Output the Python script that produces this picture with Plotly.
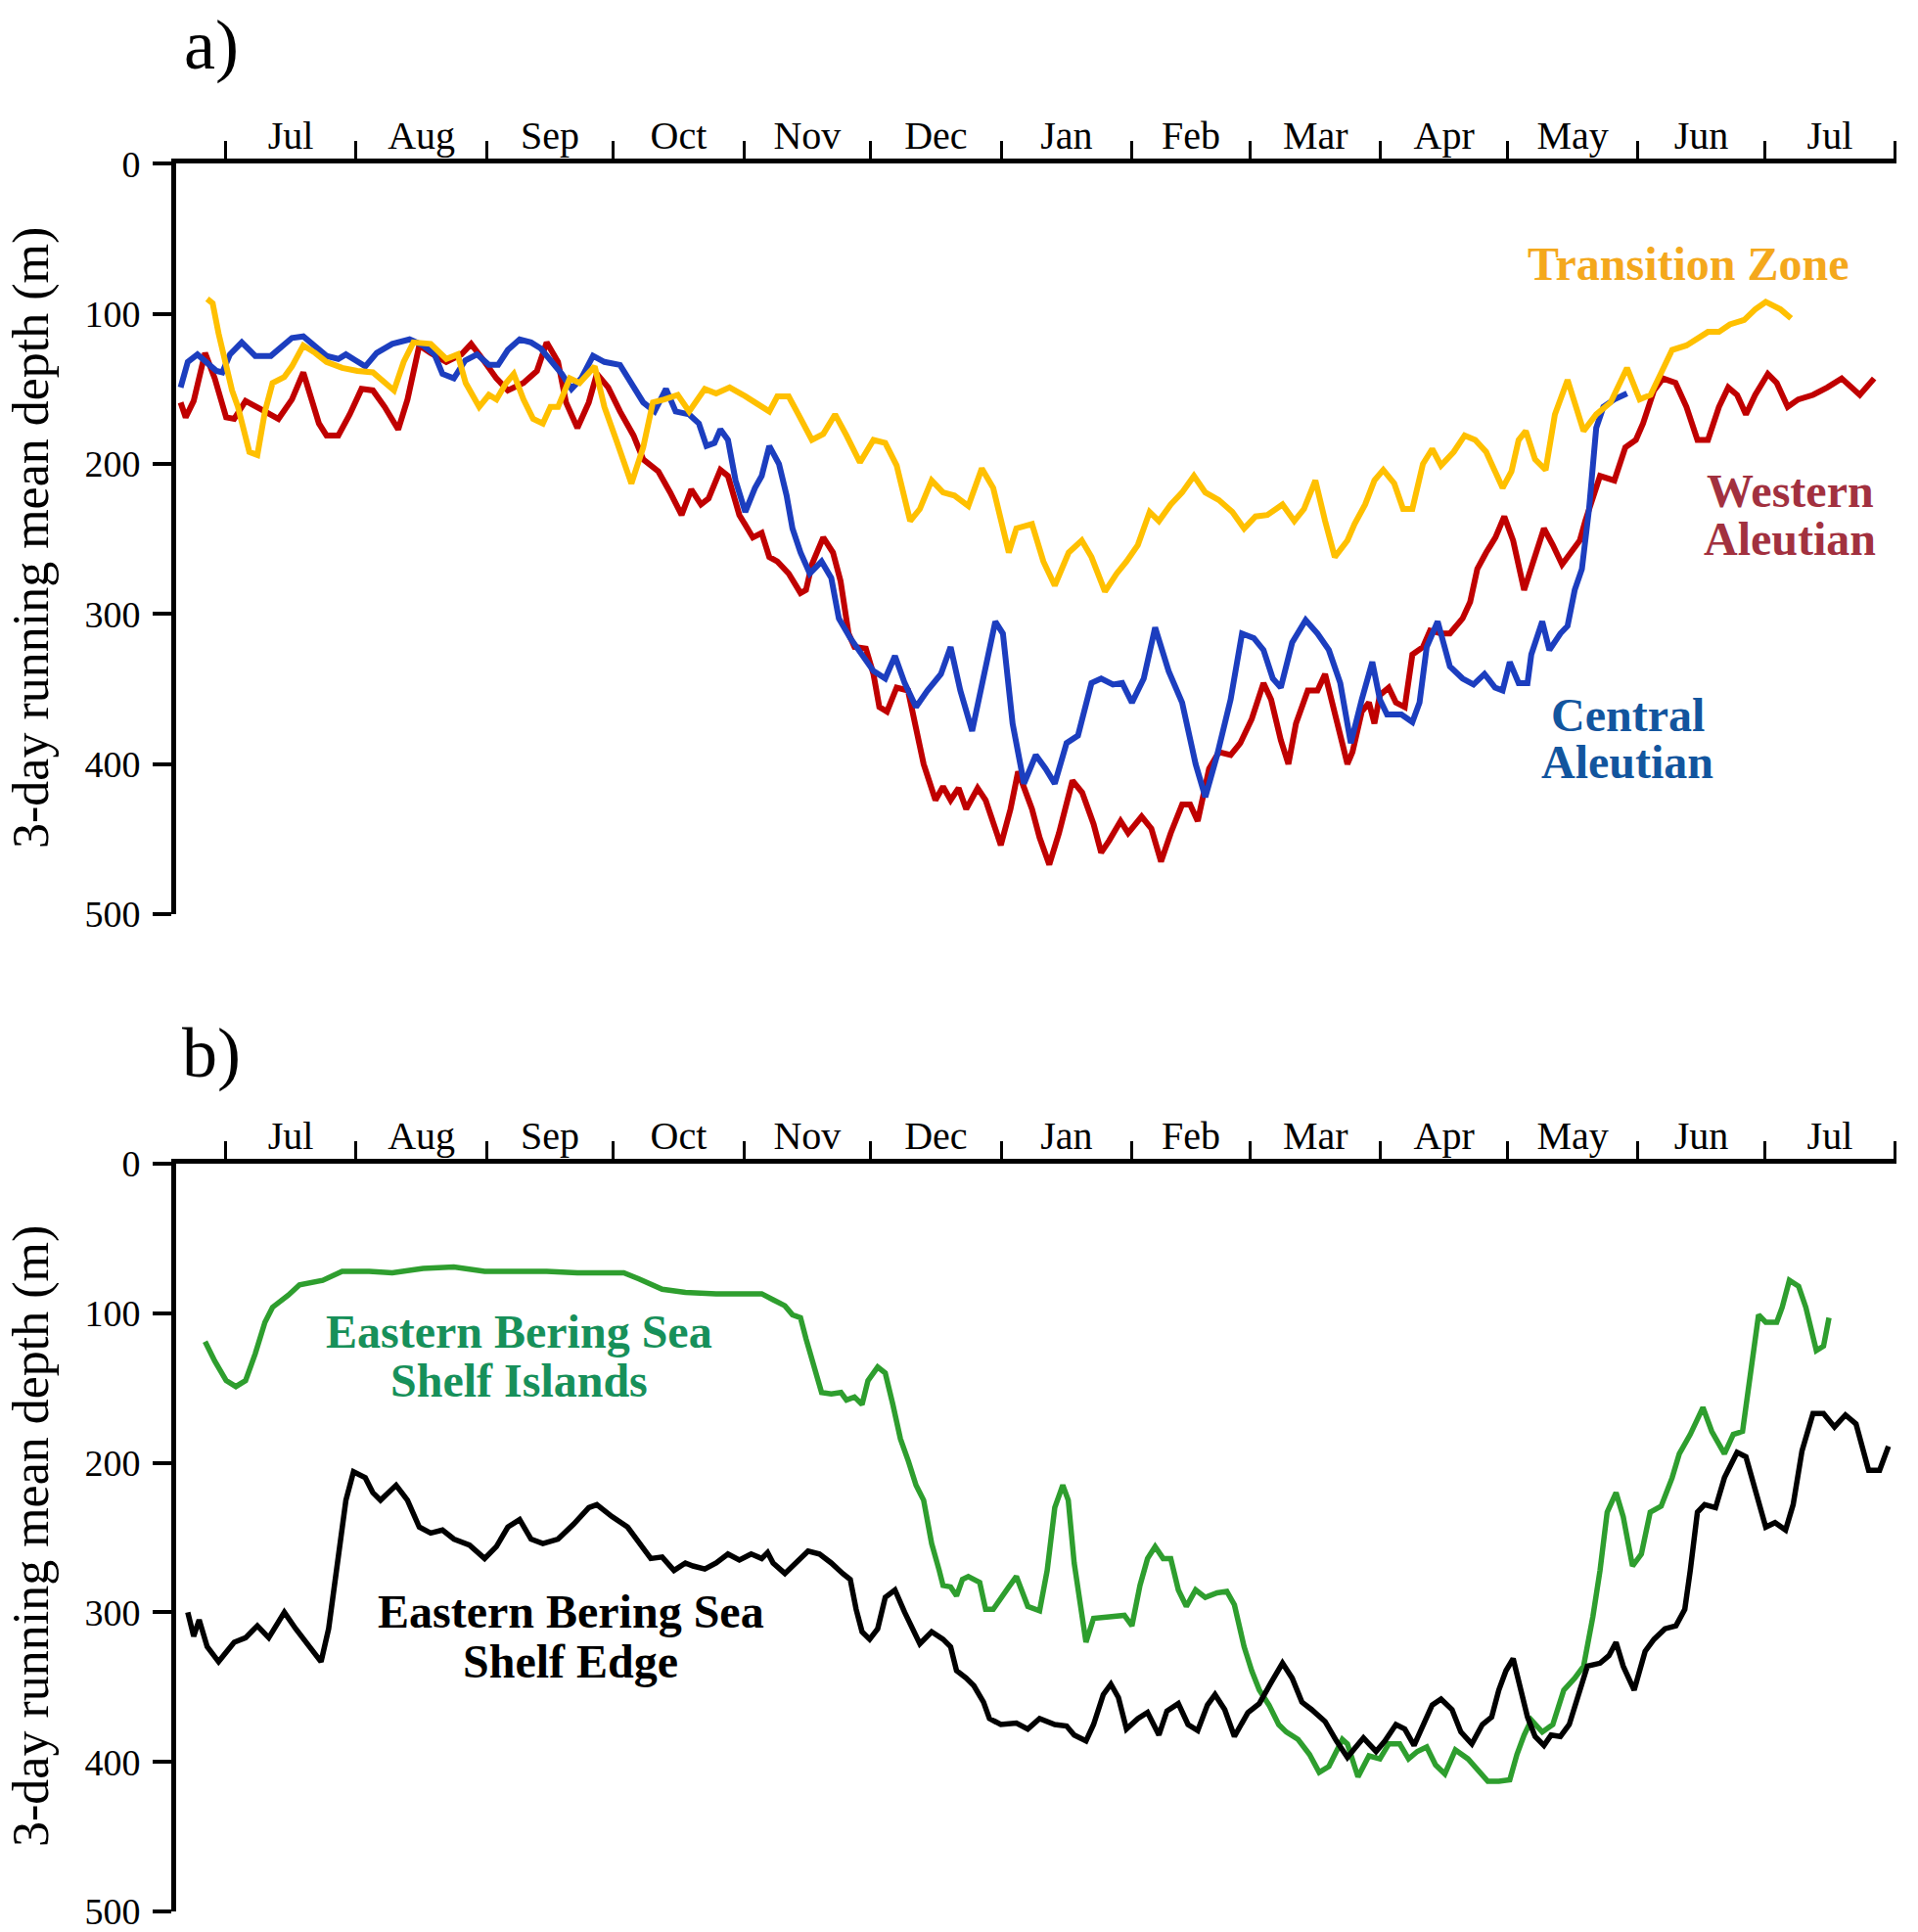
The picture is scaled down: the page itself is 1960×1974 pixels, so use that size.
import pandas as pd
import plotly.graph_objects as go

# ---------------- data (days after 1 Jul 2010, depth in m) ----------------
BASE_DATE = "2010-07-01"
MONTH_TICK0 = "2010-07-01"
X_START_DAY = -11.66
X_END_DAY = 396.3
DEPTH_TICKS = [0, 100, 200, 300, 400, 500]

western_days = [-10.6, -9.4, -7.5, -4.8, -2.5, 0.2, 2.1, 4.8, 9.4, 12.6, 15.8, 18.5, 22.2, 24.0, 26.8,
                29.5, 32.3, 35.0, 37.8, 41.0, 43.2, 46.0, 48.7, 52.4, 56.0, 58.3, 61.5, 64.3, 67.0, 70.7,
                73.9, 76.2, 78.9, 80.8, 83.5, 86.2, 88.1, 90.8, 93.6, 96.8, 99.1, 102.7, 105.5, 108.2, 110.5,
                112.8, 114.6, 117.4, 119.2, 121.9, 125.1,
                127.2, 129.0, 130.9, 133.6, 136.4, 137.7, 139.1, 141.8, 144.1, 145.9, 147.8, 149.2, 151.9, 153.7,
                155.1, 156.9, 159.2, 161.9, 163.8, 165.6, 168.4, 170.2, 172.0, 173.9, 175.7, 178.4, 180.3, 182.1,
                183.9, 186.2, 188.0, 191.3, 193.1, 195.4, 197.7, 200.9, 203.2, 205.9, 207.7, 209.6, 212.3, 214.1,
                217.3, 219.6, 221.9, 224.2, 226.9, 228.8, 230.6, 233.3, 235.6, 238.4, 240.7, 243.4, 246.2, 248.0,
                250.3, 252.1, 253.9, 256.7, 259.0, 260.8, 263.5,
                266.1, 267.3, 269.5, 271.2, 272.5, 273.8, 275.9, 277.6, 279.7, 281.5, 284.0, 285.7, 288.3, 290.4,
                293.4, 295.2, 296.9, 299.0, 301.2, 303.3, 305.4, 308.0, 309.7, 312.7, 314.8, 317.0, 319.1, 321.2,
                322.5, 326.0, 329.4, 332.0, 334.5, 336.2, 338.8, 340.9, 343.9, 346.5, 349.1, 351.6, 354.2, 356.4,
                358.5, 360.6, 362.8, 365.8, 367.9, 370.5, 373.0, 376.5, 379.9, 383.3, 387.6, 391.0]
western_depth = [159, 169, 158, 126, 143, 169, 170, 158, 165, 170, 157, 139, 173, 181, 181,
                 167, 150, 151, 162, 177, 157, 121, 126, 132, 127, 120, 132, 143, 151, 146,
                 138, 119, 132, 159, 176, 159, 140, 149, 165, 181, 197, 205, 219, 234, 217,
                 227, 223, 204, 208, 234, 249,
                 246, 262, 265, 273, 286, 284, 267, 249, 259, 278, 313, 322, 323, 340,
                 362, 365, 349, 351, 376, 400, 424, 415, 424, 416, 430, 416, 424, 440,
                 454, 430, 405, 430, 449, 467, 446, 411, 419, 440, 459, 451, 438, 446,
                 435, 443, 465, 446, 427, 427, 438, 403, 392, 394, 386, 370, 346, 357,
                 384, 400, 373, 351, 351, 340, 370,
                 400, 392, 365, 359, 373, 354, 349, 359, 362, 327, 322, 311, 313, 313,
                 303, 292, 270, 259, 249, 235, 251, 284, 270, 243, 254, 267, 259, 251,
                 238, 208, 211, 189, 184, 173, 151, 143, 146, 162, 184, 184, 162, 149,
                 154, 167, 154, 140, 146, 162, 157, 154, 149, 143, 154, 143]

central_days = [-10.6, -8.9, -6.6, -4.3, -2.1, -0.7, 1.1, 3.9, 7.1, 10.8, 13.0, 15.8, 18.5, 21.3, 24.0,
                26.8, 28.6, 30.9, 33.2, 35.9, 39.6, 43.7, 46.9, 49.6, 51.5, 54.2, 56.9, 59.7, 62.5, 64.7,
                67.0, 69.8, 72.5, 74.8, 77.6, 79.8, 82.1, 84.4, 87.2, 89.9, 93.6, 96.3, 99.1, 101.8, 104.5,
                106.8, 110.0, 112.3, 114.1, 116.0, 117.4, 119.2, 121.0, 123.3, 125.6,
                127.2, 129.0, 131.3, 133.1, 134.5, 136.4, 138.6, 141.4, 143.7, 145.5, 148.2, 151.0, 153.7, 156.5,
                158.8, 161.1, 163.8, 166.5, 169.7, 172.0, 174.3, 177.1, 180.3, 182.6, 184.4, 186.7, 189.4, 192.2,
                194.5, 196.7, 199.5, 202.2, 205.4, 207.7, 210.5, 212.7, 215.0, 217.8, 220.5, 223.7, 226.9, 230.1,
                232.4, 235.2, 238.4, 241.1, 243.9, 246.2, 248.4, 250.3, 253.0, 256.2, 259.0, 261.7, 264.4,
                266.9, 269.5, 272.0, 273.8, 275.5, 278.9, 281.5, 283.2, 284.9, 287.5, 290.4, 293.4, 296.0, 298.6,
                301.1, 302.9, 304.6, 306.7, 308.8, 309.7, 312.3, 314.0, 316.6, 318.3, 320.0, 321.7, 323.4, 325.1,
                326.8, 329.4, 332.4]
central_depth = [149, 132, 127, 132, 138, 139, 127, 119, 128, 128, 123, 116, 115, 121, 128,
                 130, 127, 131, 135, 126, 120, 117, 121, 127, 140, 143, 131, 127, 134, 134,
                 124, 117, 119, 123, 132, 140, 150, 143, 128, 132, 134, 146, 159, 165, 150,
                 165, 167, 173, 188, 186, 177, 184, 211, 232, 216,
                 208, 188, 200, 221, 243, 259, 273, 265, 276, 303, 316, 327, 338, 343,
                 328, 346, 362, 351, 340, 322, 351, 378, 335, 305, 313, 373, 413, 394,
                 403, 413, 386, 381, 346, 343, 347, 346, 359, 343, 309, 338, 359, 400,
                 422, 394, 357, 313, 316, 324, 343, 349, 319, 304, 313, 324, 346,
                 386, 357, 332, 357, 367, 367, 372, 359, 322, 305, 335, 343, 347, 340,
                 349, 351, 332, 346, 346, 327, 305, 324, 313, 308, 284, 270, 230, 176,
                 162, 157, 153]

transition_days = [-4.3, -3.0, -1.6, -0.2, 1.6, 3.0, 4.4, 5.7, 7.6, 9.4, 11.2, 14.0, 15.8, 18.5, 21.3,
                   24.0, 27.7, 31.3, 35.0, 37.8, 40.0, 42.3, 44.6, 48.7, 52.4, 55.1, 57.0, 60.2, 62.5, 64.3,
                   66.6, 68.4, 70.7, 73.0, 75.3, 77.1, 78.9, 81.7, 84.0, 87.6, 89.9, 92.7, 96.3, 99.1, 101.4,
                   104.1, 107.3, 110.0, 113.7, 116.4, 119.6, 122.8,
                   127.2, 129.0, 130.9, 133.6, 135.9, 139.1, 141.8, 144.6, 147.3, 150.5, 153.7, 156.5, 159.2, 162.4,
                   164.7, 167.5, 170.2, 172.9, 176.2, 179.4, 182.1, 185.8, 187.6, 191.3, 194.0, 196.7, 200.0, 203.1,
                   205.4, 208.6, 211.4, 213.7, 216.4, 219.2, 221.4, 224.2, 226.9, 229.7, 232.4, 235.6, 238.8, 241.6,
                   244.3, 247.1, 250.7, 253.5, 255.8, 258.5, 260.8, 263.1,
                   266.1, 267.8, 270.3, 272.5, 274.6, 277.2, 279.3, 281.5, 284.0, 286.2, 288.3, 291.3, 293.9, 296.4,
                   299.0, 301.2, 302.9, 305.0, 306.7, 308.4, 310.6, 313.1, 315.3, 318.3, 320.0, 322.1, 325.1, 328.5,
                   332.4, 335.4, 338.0, 340.5, 343.1, 346.5, 349.1, 351.6, 354.2, 356.8, 360.2, 362.8, 365.3, 368.8,
                   371.3]
transition_depth = [90, 93, 113, 130, 151, 162, 178, 192, 194, 165, 146, 142, 135, 121, 126,
                    132, 136, 138, 139, 146, 151, 132, 119, 120, 130, 127, 146, 162, 154, 157,
                    146, 140, 157, 170, 173, 162, 162, 143, 146, 135, 162, 184, 213, 189, 159,
                    157, 154, 165, 150, 153, 149, 154,
                    162, 165, 155, 155, 167, 184, 180, 167, 181, 199, 184, 186, 201, 238,
                    230, 211, 219, 221, 228, 203, 216, 259, 243, 240, 265, 281, 259, 251,
                    262, 285, 273, 265, 254, 232, 238, 227, 219, 208, 219, 224, 232, 243,
                    235, 234, 227, 238, 230, 211, 238, 262,
                    251, 240, 227, 211, 204, 213, 230, 230, 200, 190, 201, 192, 181, 184,
                    192, 205, 216, 205, 184, 178, 197, 204, 167, 144, 159, 178, 167, 159,
                    136, 157, 154, 140, 124, 121, 116, 112, 112, 107, 104, 97, 92, 97,
                    103]

islands_days = [-4.8, -2.5, 0.2, 2.5, 4.8, 7.1, 9.4, 11.2, 14.9, 17.6, 23.1, 27.7, 34.1, 39.6, 46.9,
                54.2, 61.5, 68.9, 76.2, 83.5, 89.9, 94.5, 98.1, 103.6, 109.1, 116.4, 123.8,
                127.2, 129.9, 132.7, 134.5, 136.4, 137.7, 139.6, 141.4, 143.7, 146.0, 147.3, 149.2, 151.0, 152.4,
                154.7, 156.5, 158.3, 160.1, 162.0, 163.8, 165.6, 167.5, 169.3, 170.2, 172.0, 173.4, 174.8, 176.2,
                178.9, 180.3, 182.1, 183.9, 185.8, 187.6, 190.3, 193.1, 194.9, 196.7, 198.6, 199.9, 201.3, 204.1,
                205.9, 209.6, 213.2, 215.0, 216.9, 218.7, 220.5, 222.4, 224.2, 226.0, 227.9, 230.1, 232.4, 235.2,
                237.5, 239.3, 241.6, 243.4, 245.2, 247.5, 249.8, 251.6, 254.4, 257.1, 259.4, 261.7, 263.5, 264.9,
                266.1, 268.6, 271.2, 273.8, 275.9, 278.5, 280.6, 282.7, 284.9, 287.0, 289.2, 291.7, 294.7, 296.9,
                299.4, 302.0, 304.6, 306.3, 308.0, 309.7, 312.3, 314.8, 317.4, 320.0, 322.1, 324.3, 326.0, 327.7,
                329.8, 331.5, 333.7, 335.8, 337.9, 340.5, 343.1, 344.8, 347.4, 350.4, 352.5, 355.5, 357.6, 359.8,
                361.9, 363.6, 365.3, 367.9, 369.2, 370.9, 373.1, 374.8, 377.3, 379.0, 380.3]
islands_depth = [119, 132, 145, 149, 145, 127, 106, 96, 88, 81, 78, 72, 72, 73, 70,
                 69, 72, 72, 72, 73, 73, 73, 77, 84, 86, 87, 87,
                 87, 91, 95, 101, 103, 117, 135, 153, 154, 153, 158, 156, 161, 145,
                 136, 140, 161, 184, 199, 215, 225, 254, 272, 282, 283, 289, 278, 276,
                 280, 298, 298, 290, 283, 276, 296, 299, 272, 230, 215, 225, 267, 320,
                 304, 303, 302, 309, 282, 264, 256, 264, 264, 285, 296, 285, 290, 287,
                 286, 295, 323, 339, 352, 362, 375, 380, 385, 395, 407, 403, 392, 385,
                 388, 410, 396, 398, 388, 388, 398, 393, 390, 402, 408, 392, 398, 405,
                 413, 413, 412, 395, 382, 372, 380, 375, 352, 344, 336, 303, 272, 233,
                 220, 236, 269, 261, 233, 229, 210, 194, 181, 163, 179, 194, 181, 179,
                 137, 101, 106, 106, 96, 78, 82, 96, 125, 122, 103]

edge_days = [-8.9, -7.5, -6.2, -4.3, -1.6, 2.1, 4.8, 7.6, 10.3, 14.0, 16.7, 19.4, 22.7, 24.5, 26.8,
             28.6, 30.4, 33.2, 35.0, 36.8, 40.5, 43.2, 46.0, 48.7, 51.5, 54.2, 57.9, 61.5, 64.3, 67.0,
             69.8, 72.5, 75.3, 78.9, 82.6, 86.2, 88.1, 91.7, 95.4, 98.1, 100.9, 103.6, 106.4, 109.1, 110.9,
             113.7, 116.4, 119.2, 121.9, 124.7,
             127.2, 128.6, 129.9, 132.7, 135.4, 138.2, 140.9, 143.7, 146.4, 148.2, 149.6, 151.0, 152.8, 154.7,
             156.5, 158.8, 161.1, 162.9, 164.7, 167.5, 170.2, 172.0, 173.4, 175.7, 177.5, 179.8, 181.2, 183.9,
             187.6, 190.3, 193.1, 196.7, 199.5, 201.3, 204.1, 205.9, 208.2, 210.0, 211.8, 213.7, 216.4, 218.7,
             221.4, 223.3, 226.0, 228.3, 230.6, 232.9, 234.7, 237.0, 239.3, 242.5, 245.2, 248.0, 250.7, 253.0,
             255.3, 257.6, 260.8, 263.5,
             266.1, 267.8, 269.9, 272.9, 275.0, 277.6, 279.7, 281.9, 284.0, 286.2, 288.3, 290.9, 293.0, 295.6,
             298.1, 300.3, 302.0, 303.7, 305.4, 307.1, 308.8, 310.6, 312.7, 314.4, 316.6, 318.7, 320.8, 323.0,
             326.0, 328.1, 329.8, 331.5, 334.1, 336.7, 338.8, 341.4, 344.0, 346.1, 347.4, 349.1, 350.8, 353.4,
             355.5, 358.5, 360.6, 362.8, 365.3, 367.5, 370.0, 371.8, 373.9, 376.5, 379.0, 381.6, 384.2, 386.7,
             389.7, 392.3, 394.4]
edge_depth = [300, 316, 305, 323, 333, 320, 317, 309, 317, 300, 311, 321, 333, 311, 259,
              225, 206, 210, 220, 225, 215, 225, 243, 247, 245, 251, 255, 264, 256, 243,
              238, 251, 254, 251, 241, 230, 228, 236, 243, 254, 264, 263, 272, 267, 269,
              271, 267, 261, 265, 261,
              264, 260, 267, 274, 267, 259, 261, 267, 274, 278, 298, 313, 318, 311,
              290, 285, 300, 311, 321, 313, 318, 323, 339, 344, 349, 360, 371, 375,
              374, 378, 371, 375, 376, 382, 386, 375, 355, 348, 357, 378, 371, 367,
              382, 366, 361, 375, 379, 362, 355, 365, 383, 367, 361, 347, 334, 344,
              360, 365, 373, 386,
              397, 391, 384, 393, 386, 375, 378, 389, 375, 362, 358, 365, 380, 388,
              375, 370, 352, 339, 331, 349, 370, 383, 389, 382, 383, 375, 355, 336,
              334, 329, 320, 336, 352, 326, 318, 311, 309, 298, 272, 233, 228, 230,
              210, 193, 196, 218, 243, 240, 245, 228, 192, 167, 167, 176, 168, 174,
              205, 205, 189]

# ---------------- layout helpers ----------------
PAGE_W, PAGE_H = 1960, 1974
OFF = 8                       # default body margin of the html page
W, H = PAGE_W - 2 * OFF, PAGE_H - OFF
ML = 180 - OFF
MR = W - (1938 - OFF)
MT, MB = 0, 0
SERIF = "Liberation Serif, Times New Roman, serif"


def to_dates(days):
    return pd.Timestamp(BASE_DATE) + pd.to_timedelta(days, unit="D")


def px(x):  # page pixel -> paper x
    return (x - OFF - ML) / (W - ML - MR)


def py(y):  # page pixel -> paper y
    return (H - (y - OFF)) / H


fig = go.Figure()

top_series = [
    (western_days, western_depth, "#C00000", "Western Aleutian"),
    (central_days, central_depth, "#1C3EBF", "Central Aleutian"),
    (transition_days, transition_depth, "#FFC000", "Transition Zone"),
]
for d, v, c, n in top_series:
    fig.add_trace(go.Scatter(x=to_dates(d), y=v, mode="lines", name=n,
                             line=dict(color=c, width=6), xaxis="x", yaxis="y"))

bottom_series = [
    (islands_days, islands_depth, "#2E9E2E", "Eastern Bering Sea Shelf Islands"),
    (edge_days, edge_depth, "#000000", "Eastern Bering Sea Shelf Edge"),
]
for d, v, c, n in bottom_series:
    fig.add_trace(go.Scatter(x=to_dates(d), y=v, mode="lines", name=n,
                             line=dict(color=c, width=5.5), xaxis="x2", yaxis="y2"))

x_range = [to_dates([X_START_DAY])[0], to_dates([X_END_DAY])[0]]

xaxis_common = dict(
    type="date", range=x_range, side="top", showline=True, linecolor="black", linewidth=5,
    ticks="outside", ticklen=18, tickwidth=3, tickcolor="black",
    dtick="M1", tick0=MONTH_TICK0, tickformat="%b", ticklabelmode="period",
    showgrid=False, zeroline=False, domain=[0, 1],
    tickfont=dict(family=SERIF, size=40, color="black"), ticklabelstandoff=-24,
)
yaxis_common = dict(
    range=[500, 0], tickvals=DEPTH_TICKS, showline=True, linecolor="black", linewidth=5,
    ticks="outside", ticklen=19, tickwidth=4, tickcolor="black",
    showgrid=False, zeroline=False, ticklabeloverflow="allow",
    tickfont=dict(family=SERIF, size=38, color="black"), ticklabelstandoff=5,
)

fig.update_layout(
    width=W, height=H,
    margin=dict(l=ML, r=MR, t=MT, b=MB, autoexpand=False),
    paper_bgcolor="white", plot_bgcolor="white",
    showlegend=False,
    xaxis=dict(anchor="y", **xaxis_common),
    yaxis=dict(anchor="x", domain=[py(934), py(167.4)], **yaxis_common),
    xaxis2=dict(anchor="y2", **xaxis_common),
    yaxis2=dict(anchor="x2", domain=[py(1953), py(1189)], **yaxis_common),
)

ann = []


def add_text(text, x, y, size, color, bold=False, angle=0):
    ann.append(dict(text=text, x=px(x), y=py(y), xref="paper", yref="paper",
                    xanchor="center", yanchor="middle", showarrow=False, textangle=angle,
                    font=dict(family=SERIF, size=size, color=color,
                              weight="bold" if bold else "normal")))


add_text("a)", 216, 46, 72, "black")
add_text("b)", 216, 1076, 72, "black")
add_text("3-day running mean depth (m)", 32, 550, 52, "black", angle=-90)
add_text("3-day running mean depth (m)", 32, 1570, 52, "black", angle=-90)

add_text("Transition Zone", 1725, 270, 48, "#F4A81C", bold=True)
add_text("Western", 1829, 502, 48, "#A2313F", bold=True)
add_text("Aleutian", 1829, 550, 48, "#A2313F", bold=True)
add_text("Central", 1663, 730, 48, "#12559E", bold=True)
add_text("Aleutian", 1663, 779, 48, "#12559E", bold=True)
add_text("Eastern Bering Sea", 530, 1360, 48, "#17905A", bold=True)
add_text("Shelf Islands", 530, 1410, 48, "#17905A", bold=True)
add_text("Eastern Bering Sea", 583, 1646, 48, "black", bold=True)
add_text("Shelf Edge", 583, 1697, 48, "black", bold=True)

fig.update_layout(annotations=ann)

fig.write_html("out.html")
